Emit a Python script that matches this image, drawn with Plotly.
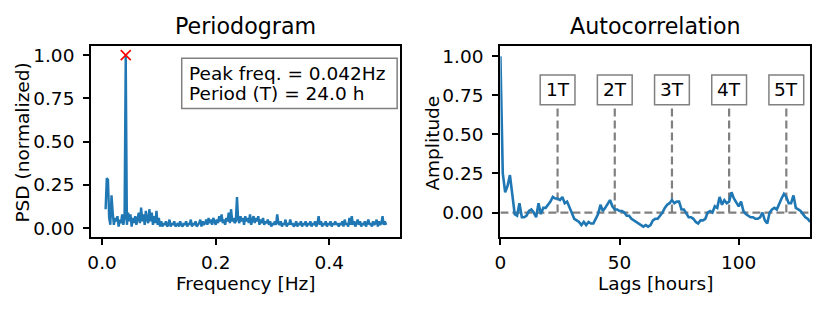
import numpy as np
import plotly.graph_objects as go

# ---------------- data ----------------
# periodogram frequency bins: k/480 Hz for k = 3..240
freq_bins = list(range(3, 241))
psd_values = [
    0.11, 0.29, 0.28, 0.06, 0.02, 0.19, 0.09, 0.02, 0.06, 0.04, 0.07, 0.01, 0.05, 0.03, 0.08, 0.02, 0.06,
    1.00,
    0.02, 0.09, 0.04, 0.08, 0.01, 0.06, 0.03, 0.07, 0.02, 0.05,
    0.09, 0.03, 0.12, 0.04, 0.08, 0.02, 0.10, 0.05, 0.03, 0.11,
    0.04, 0.09, 0.02, 0.07, 0.03, 0.10, 0.02, 0.06, 0.01, 0.04,
    0.01, 0.03, 0.02, 0.04, 0.01, 0.02, 0.05, 0.01, 0.03, 0.02,
    0.04, 0.01, 0.02, 0.03, 0.01, 0.04, 0.02, 0.01, 0.03, 0.02,
    0.04, 0.01, 0.03, 0.02, 0.05, 0.01, 0.03, 0.02, 0.04, 0.01,
    0.02, 0.03, 0.05, 0.01, 0.04, 0.02, 0.03, 0.05, 0.02, 0.06,
    0.03, 0.05, 0.02, 0.06, 0.04, 0.02, 0.05, 0.03, 0.07, 0.04,
    0.08, 0.03, 0.05, 0.02, 0.06, 0.04, 0.09, 0.03, 0.11, 0.04,
    0.06, 0.03, 0.04, 0.18, 0.05, 0.03, 0.07, 0.04, 0.06, 0.02,
    0.07, 0.04, 0.06, 0.03, 0.08, 0.02, 0.05, 0.07, 0.03, 0.06,
    0.04, 0.07, 0.02, 0.05, 0.03, 0.06, 0.02, 0.04, 0.03, 0.05,
    0.02, 0.04, 0.01, 0.03, 0.02, 0.04, 0.02, 0.08, 0.03, 0.02,
    0.04, 0.01, 0.03, 0.02, 0.05, 0.01, 0.03, 0.02, 0.05, 0.02,
    0.03, 0.01, 0.02, 0.04, 0.01, 0.03, 0.02, 0.04, 0.01, 0.03,
    0.02, 0.04, 0.01, 0.03, 0.02, 0.04, 0.01, 0.03, 0.02, 0.04,
    0.01, 0.03, 0.07, 0.02, 0.04, 0.01, 0.03, 0.02, 0.04, 0.01,
    0.03, 0.02, 0.04, 0.01, 0.03, 0.02, 0.04, 0.02, 0.03, 0.01,
    0.03, 0.02, 0.04, 0.01, 0.05, 0.02, 0.03, 0.01, 0.06, 0.02,
    0.07, 0.02, 0.04, 0.01, 0.03, 0.05, 0.02, 0.04, 0.01, 0.03,
    0.02, 0.04, 0.01, 0.03, 0.05, 0.02, 0.03, 0.01, 0.04, 0.02,
    0.03, 0.05, 0.01, 0.04, 0.02, 0.03, 0.07, 0.02, 0.04, 0.02,
]
freq_hz = [k / 480 for k in freq_bins]

peak_freq = 1 / 24
peak_psd = 1.0

acf_values = [
    1.00, 0.25, 0.13, 0.17, 0.24, 0.10, -0.01, -0.02, 0.06, -0.03,
    -0.03, -0.02, 0.01, 0.02, 0.00, -0.03, 0.06, -0.01, 0.03, 0.03,
    0.05, 0.07, 0.10, 0.09, 0.09, 0.08, 0.10, 0.06, 0.07, 0.03,
    0.00, -0.04, -0.05, -0.06, -0.08, -0.06, -0.08, -0.06, -0.07, -0.07,
    -0.04, -0.01, 0.05, 0.01, 0.03, 0.06, 0.08, 0.04, 0.02, 0.02,
    0.01, 0.01, 0.00, -0.02, -0.02, -0.04, -0.05, -0.06, -0.07, -0.08,
    -0.09, -0.08, -0.09, -0.08, -0.05, -0.04, -0.04, -0.02, 0.00, 0.03,
    0.05, 0.06, 0.08, 0.06, 0.07, 0.07, 0.02, 0.02, -0.01, -0.03,
    -0.03, -0.04, -0.06, -0.07, -0.05, -0.05, -0.04, 0.00, 0.01, 0.00,
    0.04, 0.03, 0.10, 0.05, 0.08, 0.06, 0.07, 0.13, 0.09, 0.06,
    0.04, 0.07, 0.01, -0.01, -0.02, -0.03, -0.03, -0.04, -0.04, -0.03,
    0.00, -0.05, -0.07, 0.00, 0.02, 0.03, 0.02, 0.06, 0.09, 0.12,
    0.10, 0.06, 0.06, 0.11, 0.03, 0.02, 0.01, -0.01, -0.03, -0.04,
    -0.06,
]
acf_lags = list(range(len(acf_values)))

period_labels = ["1T", "2T", "3T", "4T", "5T"]
period_lags = [24, 48, 72, 96, 120]

# ---------------- figure ----------------
W, H = 830, 312
FONT = "DejaVu Sans"
BLUE = "#1f77b4"
GRAY = "#808080"
TXT = 18.5
TITLE = 22.2


def px_x(p):
    return p / W


def px_y(p):
    return 1 - p / H


fig = go.Figure()

fig.add_trace(go.Scatter(x=freq_hz, y=psd_values, mode="lines",
                         line=dict(color=BLUE, width=2.4), xaxis="x", yaxis="y",
                         showlegend=False))
fig.add_trace(go.Scatter(x=[peak_freq], y=[peak_psd], mode="markers",
                         marker=dict(symbol="x-thin", size=10, color="red",
                                     line=dict(color="red", width=1.6)),
                         xaxis="x", yaxis="y", showlegend=False))
fig.add_trace(go.Scatter(x=acf_lags, y=acf_values, mode="lines",
                         line=dict(color=BLUE, width=2.6), xaxis="x2", yaxis="y2",
                         showlegend=False))

axis_common = dict(showline=True, linecolor="black", linewidth=1.5, mirror=True,
                   ticks="outside", ticklen=6.5, tickwidth=1.5, tickcolor="black",
                   showgrid=False, zeroline=False,
                   tickfont=dict(family=FONT, size=TXT, color="black"))

fig.update_layout(
    width=W, height=H,
    margin=dict(l=0, r=0, t=0, b=0),
    paper_bgcolor="white", plot_bgcolor="white",
    font=dict(family=FONT, color="black"),
    xaxis=dict(domain=[px_x(86), px_x(397)], range=[-0.0188, 0.5247], ticklabelstandoff=2,
               tickvals=[0.0, 0.2, 0.4], tickformat=".1f", anchor="y", **axis_common),
    yaxis=dict(domain=[px_y(238), px_y(45)], range=[-0.05, 1.05], ticklabelstandoff=5,
               tickvals=[0, 0.25, 0.5, 0.75, 1.0], tickformat=".2f", anchor="x", **axis_common),
    xaxis2=dict(domain=[px_x(498), px_x(810)], range=[0, 130], ticklabelstandoff=2,
                tickvals=[0, 50, 100], anchor="y2", **axis_common),
    yaxis2=dict(domain=[px_y(238), px_y(45)], range=[-0.156, 1.063], ticklabelstandoff=5,
                tickvals=[0, 0.25, 0.5, 0.75, 1.0], tickformat=".2f", anchor="x2", **axis_common),
)

DASH = dict(color=GRAY, width=2.2, dash="8px,4px")
shapes = [dict(type="line", xref="x2", yref="y2", x0=0, x1=130, y0=0, y1=0,
               line=DASH, layer="below")]
for lag in period_lags:
    shapes.append(dict(type="line", xref="x2", yref="y2", x0=lag, x1=lag, y0=0, y1=0.8,
                       line=DASH, layer="below"))
    # label box (35 px wide => 14.6 lags)
    shapes.append(dict(type="rect", xref="x2", yref="paper", x0=lag - 7.3, x1=lag + 7.3,
                       y0=px_y(104), y1=px_y(74), fillcolor="white",
                       line=dict(color=GRAY, width=1.5), layer="above"))
# peak info box
shapes.append(dict(type="rect", xref="paper", yref="paper", x0=px_x(177), x1=px_x(394),
                   y0=px_y(108), y1=px_y(57), fillcolor="white",
                   line=dict(color=GRAY, width=1.5), layer="above"))
fig.update_layout(shapes=shapes)


def txt(text, x, y, size=TXT, xanchor="center", angle=0, xref="paper"):
    return dict(text=text, x=x, y=y, xref=xref, yref="paper", showarrow=False,
                textangle=angle, font=dict(family=FONT, size=size, color="black"),
                xanchor=xanchor, yanchor="middle")


annotations = [
    txt("Periodogram", px_x(241.5), px_y(24), size=TITLE),
    txt("Autocorrelation", px_x(654), px_y(24), size=TITLE),
    txt("Frequency [Hz]", px_x(241.5), px_y(285)),
    txt("Lags [hours]", px_x(654), px_y(285)),
    txt("PSD (normalized)", px_x(17), px_y(142.5), angle=-90),
    txt("Amplitude", px_x(430), px_y(142.5), angle=-90),
    txt(f"Peak freq. = {peak_freq:.3f}Hz", px_x(182), px_y(72), xanchor="left"),
    txt(f"Period (T) = {1 / peak_freq:.1f} h", px_x(182), px_y(93), xanchor="left"),
]
for lab, lag in zip(period_labels, period_lags):
    annotations.append(txt(lab, lag, px_y(89), xref="x2"))
fig.update_layout(annotations=annotations)

fig.write_html("out.html", config={"displayModeBar": False},
               post_script="document.body.style.margin='0px';document.body.style.overflow='hidden';")
